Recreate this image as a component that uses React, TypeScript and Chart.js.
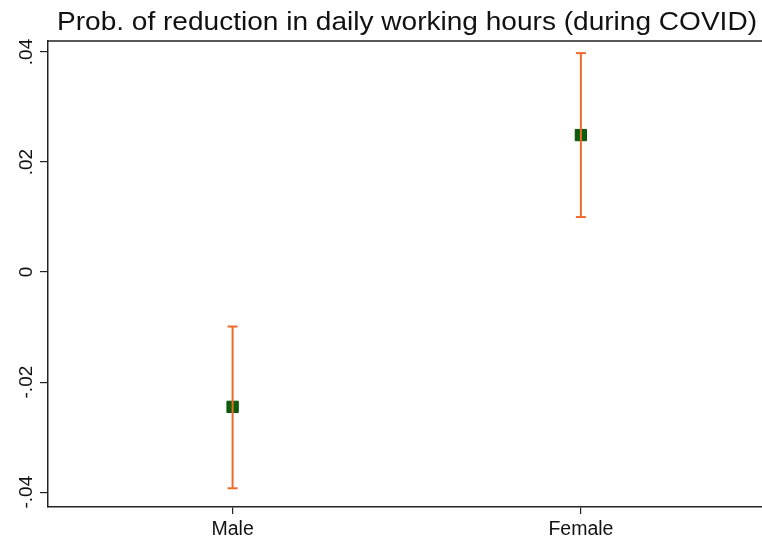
import React, { useEffect, useRef } from "react";
import { Chart, registerables } from "chart.js";

Chart.register(...registerables);

const titleText = "Prob. of reduction in daily working hours (during COVID)";
const categories = ["Male", "Female"];
const estimates = [-0.0245, 0.0249];
const ciLower = [-0.0393, 0.01];
const ciUpper = [-0.0099, 0.0398];
const yTickValues = [-0.04, -0.02, 0, 0.02, 0.04];
const yTickLabels = ["-.04", "-.02", "0", ".02", ".04"];

const FONT = "'Liberation Sans', Arial, sans-serif";
const AXIS = "#222";
const ORANGE = "#ee6a2c";
const GREEN = "#0b5e0b";

const decor = {
  id: "decor",
  afterDraw(chart: any) {
    const { ctx, chartArea, scales } = chart;
    const y = scales.y;
    ctx.save();
    // top border
    ctx.strokeStyle = AXIS;
    ctx.lineWidth = 1.5;
    ctx.beginPath();
    ctx.moveTo(chartArea.left, chartArea.top);
    ctx.lineTo(chartArea.right, chartArea.top);
    ctx.stroke();
    // title (slightly wide glyphs as in reference)
    ctx.fillStyle = "#111";
    ctx.font = `25px ${FONT}`;
    ctx.textAlign = "center";
    ctx.textBaseline = "alphabetic";
    const w = ctx.measureText(titleText).width;
    const sx = 700 / w;
    ctx.save();
    ctx.translate(407, 29.5);
    ctx.scale(sx, 1);
    ctx.fillText(titleText, 0, 0);
    ctx.restore();
    // y tick labels, rotated
    ctx.font = `19px ${FONT}`;
    ctx.textAlign = "center";
    ctx.textBaseline = "alphabetic";
    yTickValues.forEach((v, i) => {
      const py = y.getPixelForValue(v);
      ctx.save();
      ctx.translate(32, py);
      ctx.rotate(-Math.PI / 2);
      ctx.fillText(yTickLabels[i], 0, 0);
      ctx.restore();
    });
    ctx.restore();
  },
};

export default function App() {
  const ref = useRef<HTMLCanvasElement>(null);
  useEffect(() => {
    if (!ref.current) return;
    const errorSets = categories.map((c, i) => ({
      type: "line" as const,
      label: c + " CI",
      data: [
        { x: i + 1, y: ciLower[i] },
        { x: i + 1, y: ciUpper[i] },
      ],
      showLine: true,
      borderColor: ORANGE,
      borderWidth: 2,
      pointStyle: "line",
      pointRadius: 5,
      pointBorderColor: ORANGE,
      pointBorderWidth: 2,
      pointBackgroundColor: ORANGE,
      order: 0,
    }));
    const chart = new Chart(ref.current, {
      type: "scatter",
      data: {
        datasets: [
          ...errorSets,
          {
            type: "scatter",
            label: "Estimate",
            data: categories.map((_, i) => ({ x: i + 1, y: estimates[i] })),
            pointStyle: "rect",
            pointRadius: 8,
            backgroundColor: GREEN,
            borderColor: "#0a4f0a",
            borderWidth: 1,
            order: 1,
          },
        ] as any,
      },
      options: {
        animation: false,
        responsive: false,
        layout: { autoPadding: false, padding: { top: 41, left: 0, right: 0, bottom: 0 } },
        plugins: {
          legend: { display: false },
          tooltip: { enabled: false },
          title: { display: false },
        },
        scales: {
          x: {
            type: "linear",
            min: 0.47,
            max: 2.52,
            afterBuildTicks: (s: any) => {
              s.ticks = categories.map((_, i) => ({ value: i + 1 }));
            },
            afterFit: (s: any) => {
              s.height = 34;
              s.paddingLeft = 0;
              s.paddingRight = 0;
            },
            ticks: {
              callback: (v: any) => categories[Number(v) - 1] ?? "",
              color: "#111",
              font: { family: FONT, size: 19.5 },
              padding: 4,
              maxRotation: 0,
              minRotation: 0,
            },
            grid: {
              display: true,
              drawOnChartArea: false,
              drawTicks: true,
              tickLength: 7,
              color: AXIS,
              lineWidth: 1.2,
            },
            border: { display: true, color: AXIS, width: 1.5 },
          },
          y: {
            min: -0.0427,
            max: 0.042,
            afterBuildTicks: (s: any) => {
              s.ticks = yTickValues.map((v) => ({ value: v }));
            },
            afterFit: (s: any) => {
              s.width = 48;
              s.paddingTop = 0;
              s.paddingBottom = 0;
            },
            ticks: { display: false },
            grid: {
              display: true,
              drawOnChartArea: false,
              drawTicks: true,
              tickLength: 8,
              color: AXIS,
              lineWidth: 1.2,
            },
            border: { display: true, color: AXIS, width: 1.5 },
          },
        },
      } as any,
      plugins: [decor],
    });
    return () => chart.destroy();
  }, []);
  return (
    <div style={{ position: "absolute", left: 0, top: 0, width: 762, height: 541, background: "#fff" }}>
      <canvas ref={ref} width={762} height={541} style={{ display: "block" }} />
    </div>
  );
}
